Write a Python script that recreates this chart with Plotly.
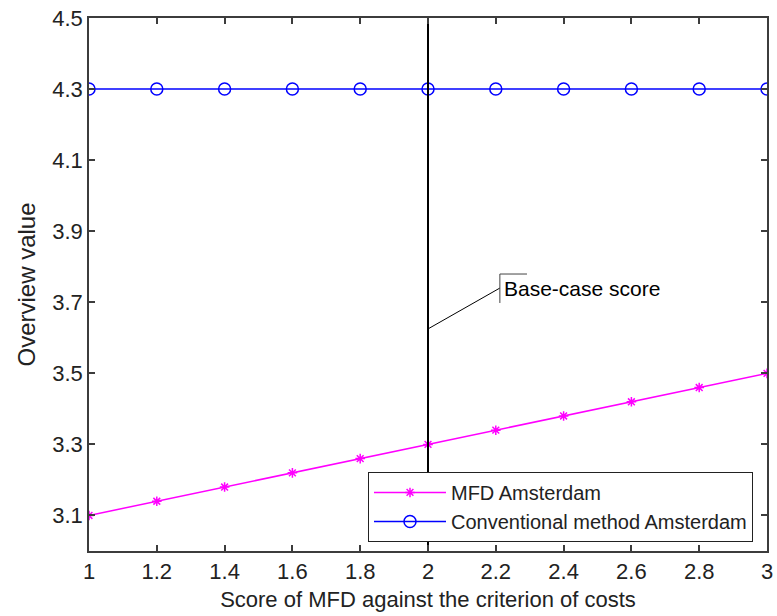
import plotly.graph_objects as go

# Sensitivity of the overview value to the MFD cost score
score = [1.0, 1.2, 1.4, 1.6, 1.8, 2.0, 2.2, 2.4, 2.6, 2.8, 3.0]
mfd_amsterdam = [3.10, 3.14, 3.18, 3.22, 3.26, 3.30, 3.34, 3.38, 3.42, 3.46, 3.50]
conventional_amsterdam = [4.30, 4.30, 4.30, 4.30, 4.30, 4.30, 4.30, 4.30, 4.30, 4.30, 4.30]
base_case_score = 2.0

x_ticks = [1, 1.2, 1.4, 1.6, 1.8, 2, 2.2, 2.4, 2.6, 2.8, 3]
y_ticks = [3.1, 3.3, 3.5, 3.7, 3.9, 4.1, 4.3, 4.5]
x_range = [1, 3]
y_range = [3.0, 4.5]

FONT = "Arial, Liberation Sans, sans-serif"
AXIS_GREY = "#3c3c3c"
TEXT = "#222"

fig = go.Figure()

fig.add_trace(go.Scatter(
    x=score, y=mfd_amsterdam, mode="lines+markers", name="MFD Amsterdam",
    line=dict(color="#ff00ff", width=1.5),
    marker=dict(symbol="asterisk-open", size=8, color="#ff00ff",
                line=dict(color="#ff00ff", width=1.5)),
))
fig.add_trace(go.Scatter(
    x=score, y=conventional_amsterdam, mode="lines+markers",
    name="Conventional method Amsterdam",
    line=dict(color="#0000ff", width=1.5),
    marker=dict(symbol="circle-open", size=12, color="#0000ff",
                line=dict(color="#0000ff", width=1.5)),
))

# Vertical marker at the base-case score
fig.add_trace(go.Scatter(
    x=[base_case_score, base_case_score], y=y_range, mode="lines",
    line=dict(color="black", width=2), showlegend=False, hoverinfo="skip",
))

# Callout for the base-case line
label_x, label_y = 2.212, 3.740
fig.add_shape(type="line", xref="x", yref="y",
              x0=base_case_score, y0=3.625, x1=label_x, y1=label_y,
              line=dict(color="black", width=1))
fig.add_shape(type="line", xref="x", yref="y",
              x0=label_x, y0=3.698, x1=label_x, y1=3.7795,
              line=dict(color="#444", width=1))
fig.add_shape(type="line", xref="x", yref="y",
              x0=label_x, y0=3.7795, x1=2.292, y1=3.7795,
              line=dict(color="#444", width=1))
fig.add_annotation(x=label_x + 0.006, y=label_y, xref="x", yref="y",
                   text="Base-case score", showarrow=False,
                   xanchor="left", yanchor="middle",
                   font=dict(family=FONT, size=21, color="black"))

axis_common = dict(
    showgrid=False, zeroline=False, showline=True, linecolor=AXIS_GREY,
    linewidth=1.5, mirror="ticks", ticks="inside", ticklen=6,
    tickcolor=AXIS_GREY, tickwidth=1.5, automargin=False,
    tickfont=dict(family=FONT, size=22, color=TEXT),
)

fig.update_xaxes(range=x_range, tickvals=x_ticks,
                 ticktext=[f"{v:g}" for v in x_ticks],
                 title=dict(text="Score of MFD against the criterion of costs",
                            font=dict(family=FONT, size=22, color=TEXT),
                            standoff=8),
                 **axis_common)
fig.update_yaxes(range=y_range, tickvals=y_ticks,
                 ticktext=[f"{v:.1f}" for v in y_ticks],
                 title=dict(text="Overview value",
                            font=dict(family=FONT, size=24, color=TEXT),
                            standoff=10),
                 **axis_common)

fig.update_layout(
    width=777, height=616,
    margin=dict(l=89, r=10, t=18, b=65, autoexpand=False),
    plot_bgcolor="white", paper_bgcolor="white",
    legend=dict(x=0.4115, y=0.017, xanchor="left", yanchor="bottom",
                bgcolor="white", bordercolor="#222", borderwidth=1,
                font=dict(family=FONT, size=20, color=TEXT),
                itemwidth=72, tracegroupgap=0),
)

fig.write_html("out.html")
